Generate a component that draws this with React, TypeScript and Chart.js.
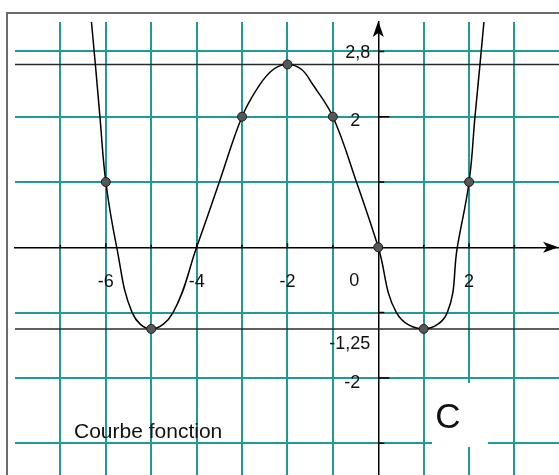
import { useEffect, useRef } from "react";
import { Chart, registerables } from "chart.js";

Chart.register(...registerables);

// ---- data ----
const xRange = [-8, 3.98];
const yRange = [-3.487, 3.45];
const xTickValues = [-7, -6, -5, -4, -3, -2, -1, 0, 1, 2, 3];
const xTickLabels = ["", "-6", "", "-4", "", "-2", "", "", "", "2", ""];
const yTickValues = [-3, -2, -1, 0, 1, 2, 3];
const yLabelValues = [2.8, 2, -1.25, -2];
const yLabelTexts = ["2,8", "2", "-1,25", "-2"];
const originLabel = "0";
const curveX = [-6.39, -6.23, -6.13, -6, -5.76, -5.42, -5, -4.52, -4, -3.5, -3, -2.62, -2.3, -2, -1.7, -1.45, -1, -0.48, 0, 0.4, 1, 1.52, 1.74, 2, 2.13, 2.24, 2.4];
const curveY = [4, 2.8, 2, 1, 0, -1, -1.25, -1, 0, 1, 2, 2.48, 2.73, 2.8, 2.73, 2.5, 2, 1, 0, -1, -1.25, -1, 0, 1, 2, 2.8, 4];
const markerX = [-6, -5, -3, -2, -1, 0, 1, 2];
const markerY = [1, -1.25, 2, 2.8, 2, 0, -1.25, 1];
const refLineY = [2.8, -1.25];
const chartCaption = "Courbe fonction";
const curveName = "C";

// ---- style ----
const TEAL = "#1e9b98";
const FONT = '"Liberation Sans", Arial, sans-serif';
const yLabelDx = [-8, -18, -8, -18];
const yLabelDy = [-11.5, 4.5, 15, 5];

const decorPlugin = {
  id: "decor",
  afterDraw(chart: any) {
    const ctx = chart.ctx as CanvasRenderingContext2D;
    const xs = chart.scales.x;
    const ys = chart.scales.y;
    const area = chart.chartArea;
    const x0 = xs.getPixelForValue(0);
    const y0 = ys.getPixelForValue(0);
    ctx.save();

    // frame
    ctx.strokeStyle = "#6b6b6b";
    ctx.lineWidth = 2;
    ctx.beginPath();
    ctx.moveTo(7, chart.height);
    ctx.lineTo(7, 13);
    ctx.lineTo(chart.width, 13);
    ctx.stroke();

    // tick marks
    ctx.strokeStyle = "#000";
    ctx.lineWidth = 1.5;
    ctx.beginPath();
    xTickValues.forEach((v) => {
      if (v === 0) return;
      const px = xs.getPixelForValue(v);
      const len = v % 2 === 0 ? 4 : 2.5;
      ctx.moveTo(px, y0);
      ctx.lineTo(px, y0 - len);
    });
    yTickValues.forEach((v) => {
      if (v === 0) return;
      const py = ys.getPixelForValue(v);
      const len = Math.abs(v) === 2 ? 11 : 6;
      ctx.moveTo(x0, py);
      ctx.lineTo(x0 + len, py);
    });
    ctx.stroke();

    // arrows
    ctx.fillStyle = "#000";
    ctx.beginPath();
    ctx.moveTo(x0, area.top - 1);
    ctx.lineTo(x0 - 5.5, area.top + 15);
    ctx.lineTo(x0, area.top + 11);
    ctx.lineTo(x0 + 5.5, area.top + 15);
    ctx.closePath();
    ctx.fill();
    ctx.beginPath();
    ctx.moveTo(area.right - 0.5, y0);
    ctx.lineTo(area.right - 16, y0 - 5.5);
    ctx.lineTo(area.right - 12, y0);
    ctx.lineTo(area.right - 16, y0 + 5.5);
    ctx.closePath();
    ctx.fill();

    // y labels + origin
    ctx.fillStyle = "#111";
    ctx.font = "18px " + FONT;
    ctx.textBaseline = "middle";
    ctx.textAlign = "right";
    yLabelValues.forEach((v, i) => {
      ctx.fillText(yLabelTexts[i], x0 + yLabelDx[i], ys.getPixelForValue(v) + yLabelDy[i]);
    });
    ctx.textAlign = "center";
    ctx.fillText(originLabel, x0 - 24, y0 + 33.5);

    // curve name with white box
    ctx.fillStyle = "#fff";
    ctx.fillRect(432, 383, 56, 64);
    ctx.fillStyle = "#111";
    ctx.font = "35px " + FONT;
    ctx.textAlign = "center";
    ctx.fillText(curveName, 448, 418);

    // caption
    ctx.font = "21px " + FONT;
    ctx.textAlign = "left";
    ctx.fillText(chartCaption, 74, 432);
    ctx.restore();
  },
};

export default function App() {
  const ref = useRef<HTMLCanvasElement>(null);
  useEffect(() => {
    if (!ref.current) return;
    const chart = new Chart(ref.current, {
      type: "line",
      data: {
        datasets: [
          {
            label: "points",
            data: markerX.map((x, i) => ({ x, y: markerY[i] })),
            showLine: false,
            pointRadius: 4.5,
            pointBackgroundColor: "#575757",
            pointBorderColor: "#1a1a1a",
            pointBorderWidth: 1,
          },
          {
            label: "curve",
            data: curveX.map((x, i) => ({ x, y: curveY[i] })),
            borderColor: "#000",
            borderWidth: 1.5,
            pointRadius: 0,
            tension: 0.4,
            fill: false,
          },
          ...refLineY.map((y) => ({
            label: "ref" + y,
            data: [
              { x: -8, y },
              { x: 4, y },
            ],
            borderColor: "#2a2a2a",
            borderWidth: 1.5,
            pointRadius: 0,
            fill: false,
          })),
        ],
      } as any,
      options: {
        animation: false,
        responsive: false,
        events: [],
        layout: { autoPadding: false, padding: { left: 15, top: 22, right: 0, bottom: 0 } },
        plugins: { legend: { display: false }, tooltip: { enabled: false } },
        scales: {
          x: {
            type: "linear",
            min: xRange[0],
            max: xRange[1],
            position: { y: 0 } as any,
            afterBuildTicks: (scale: any) => {
              scale.ticks = xTickValues.map((v) => ({ value: v }));
            },
            grid: {
              color: (c: any) => (c.tick && c.tick.value === 0 ? "rgba(0,0,0,0)" : TEAL),
              lineWidth: 2,
              drawTicks: false,
            },
            border: { display: true, color: "#000", width: 1.5 },
            ticks: {
              autoSkip: false,
              maxRotation: 0,
              minRotation: 0,
              padding: 23.5,
              color: "#111",
              font: { family: FONT, size: 18 },
              callback: (_v: any, i: number) => xTickLabels[i],
            },
          },
          y: {
            type: "linear",
            min: yRange[0],
            max: yRange[1],
            position: { x: 0 } as any,
            afterBuildTicks: (scale: any) => {
              scale.ticks = yTickValues.map((v) => ({ value: v }));
            },
            grid: {
              color: (c: any) => (c.tick && c.tick.value === 0 ? "rgba(0,0,0,0)" : TEAL),
              lineWidth: 2,
              drawTicks: false,
            },
            border: { display: true, color: "#000", width: 1.5 },
            ticks: { display: false },
          },
        },
      } as any,
      plugins: [decorPlugin],
    });
    return () => chart.destroy();
  }, []);
  return (
    <div style={{ position: "absolute", left: 0, top: 0, width: 559, height: 475, overflow: "hidden", background: "#fff" }}>
      <canvas ref={ref} width={559} height={475} style={{ display: "block" }} />
    </div>
  );
}
